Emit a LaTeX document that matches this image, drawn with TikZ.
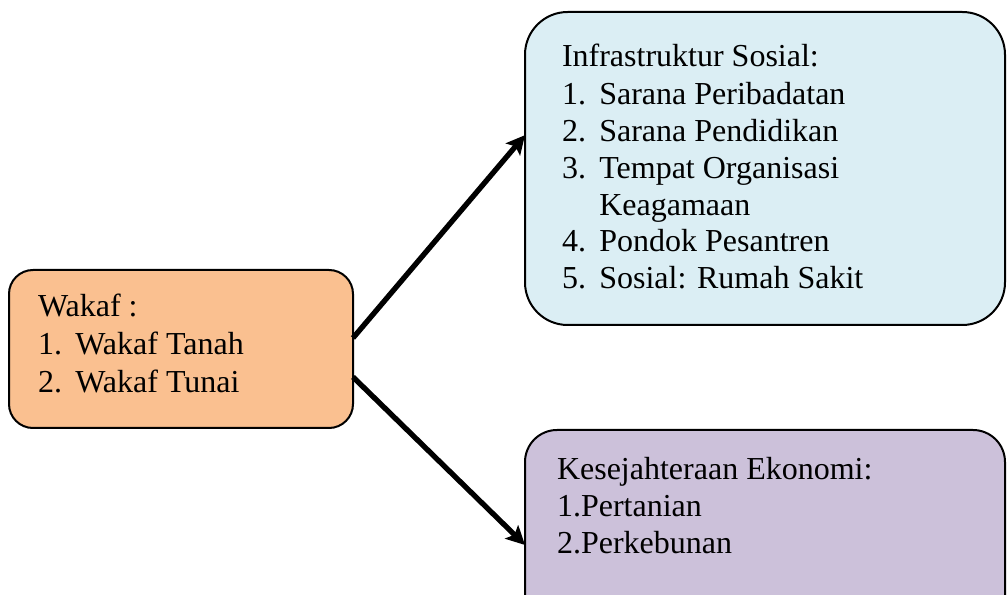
\documentclass[tikz,border=0pt]{standalone}
\usepackage{fontspec}
\setmainfont{Liberation Serif}
\usetikzlibrary{arrows.meta}
\definecolor{orangefill}{HTML}{FAC090}
\definecolor{bluefill}{HTML}{DBEEF4}
\definecolor{purplefill}{HTML}{CCC1DA}
\tikzset{
  box/.style={draw=black, line width=1.5pt, rectangle, outer sep=0pt, inner sep=0pt},
  txt/.style={anchor=base west, inner sep=0pt, outer sep=0pt, font=\fontsize{24}{28}\selectfont},
  arr/.style={line width=4pt, -{Stealth[length=14pt,width=14pt,inset=3pt]}},
}
\newcommand{\itm}[1]{\makebox[28pt][l]{#1}}
\begin{document}
\begin{tikzpicture}[x=0.75pt,y=-0.75pt]
\useasboundingbox (0,0) rectangle (1008,595);
\clip (0,0) rectangle (1008,595);
% boxes
\node[box, fill=orangefill, rounded corners=18pt, minimum width=258pt, minimum height=118.5pt] (L) at (181,349) {};
\node[box, fill=bluefill, rounded corners=32pt, minimum width=360pt, minimum height=234.75pt] (T) at (765,168.5) {};
\node[box, fill=purplefill, rounded corners=24pt, minimum width=360pt, minimum height=172.5pt] (B) at (765,545) {};
% texts left
\node[txt] (l1) at (38,317) {Wakaf :};
\node[txt] (l2) at (38,355) {\itm{1.}Wakaf Tanah};
\node[txt] (l3) at (38,393) {\itm{2.}Wakaf Tunai};
% texts top right
\node[txt] (t1) at (562,67) {Infrastruktur Sosial:};
\node[txt] (t2) at (562,104.5) {\itm{1.}Sarana Peribadatan};
\node[txt] (t3) at (562,142) {\itm{2.}Sarana Pendidikan};
\node[txt] (t4) at (562,179) {\itm{3.}Tempat Organisasi};
\node[txt] (t5) at (562,215.5) {\itm{}Keagamaan};
\node[txt] (t6) at (562,252) {\itm{4.}Pondok Pesantren};
\node[txt] (t7) at (562,289) {\itm{5.}Sosial: Rumah Sakit};
% texts bottom right
\node[txt] (b1) at (557,480) {Kesejahteraan Ekonomi:};
\node[txt] (b2) at (557,517) {1.Pertanian};
\node[txt] (b3) at (557,553) {2.Perkebunan};
% arrows
\draw[arr] ([yshift=8.25pt]L.east) -- ([yshift=25pt]T.west);
\draw[arr] ([yshift=-21pt]L.east) -- (B.west);
\end{tikzpicture}
\end{document}
